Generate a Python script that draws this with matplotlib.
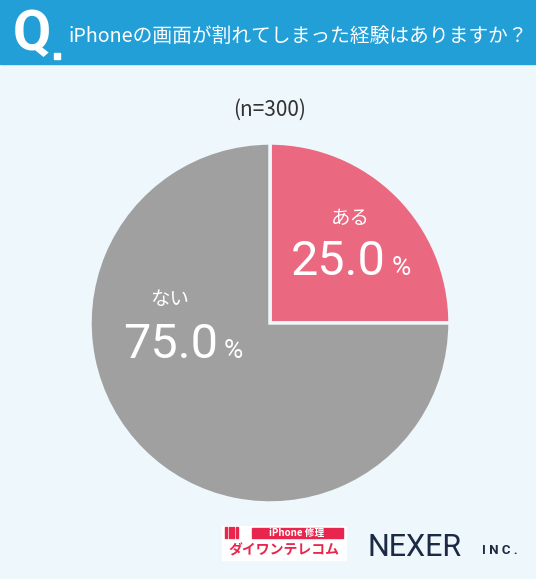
import matplotlib.pyplot as plt
from matplotlib.patches import Rectangle

plt.rcParams['font.family'] = ['Noto Sans CJK JP', 'DejaVu Sans']

# Data
labels = ['ある', 'ない']
values = [25.0, 75.0]
colors = ['#ea6981', '#a0a0a0']
question = 'iPhoneの画面が割れてしまった経験はありますか？'
sample = '(n=300)'

W, H = 536, 579
fig = plt.figure(figsize=(W / 100, H / 100), dpi=100)
fig.patch.set_facecolor('#eef7fc')
ax = fig.add_axes([0, 0, 1, 1])
ax.set_facecolor('#eef7fc')

# Header band
ax.add_patch(Rectangle((0, H - 64), W, 64, color='#229fd7', zorder=1))
ax.text(13, H - 35, 'Q', color='white', fontsize=40, fontweight='bold',
        va='center', ha='left', family=['Roboto', 'DejaVu Sans'])
ax.add_patch(Rectangle((54, H - 59), 6, 6, color='white', zorder=2))
ax.text(68, H - 36, question, color='white', fontsize=14.2, va='center', ha='left')

ax.text(W / 2 + 2, H - 110, sample, color='#333333', fontsize=15, ha='center', va='center')

# Pie
cx, cy, r = 270, H - 323, 180
wedges, _ = ax.pie(values, colors=colors, startangle=90, counterclock=False,
                   center=(cx, cy), radius=r, frame=True,
                   wedgeprops=dict(edgecolor='#eef7fc', linewidth=2.5))

num_font = ['Roboto', 'DejaVu Sans']
ax.text(350, H - 218, labels[0], color='white', fontsize=14, ha='center', va='center')
ax.text(338, H - 262, '25.0', color='white', fontsize=35, ha='center', va='center',
        family=num_font)
ax.text(401, H - 268, '%', color='white', fontsize=19, ha='center', va='center',
        family=num_font)
ax.text(170, H - 300, labels[1], color='white', fontsize=14, ha='center', va='center')
ax.text(171, H - 345, '75.0', color='white', fontsize=35, ha='center', va='center',
        family=num_font)
ax.text(233, H - 351, '%', color='white', fontsize=19, ha='center', va='center',
        family=num_font)

# Logos
ax.add_patch(Rectangle((222, H - 560), 124, 34, color='white', zorder=2))
ax.add_patch(Rectangle((252, H - 538), 91, 10, color='#e8264d', zorder=3))
for i in range(4):
    ax.add_patch(Rectangle((225 + i * 3.5, H - 538), 2, 11, color='#e8264d', zorder=3))
ax.text(297, H - 533, 'iPhone 修理', color='white', fontsize=7, fontweight='bold',
        ha='center', va='center', zorder=4)
ax.text(284, H - 550, 'ダイワンテレコム', color='#e8264d', fontsize=10, fontweight='bold',
        ha='center', va='center', zorder=4)
ax.text(367, H - 548, 'NEXER', color='#1c2b45', fontsize=22, ha='left', va='center',
        family=num_font)
ax.text(482, H - 551, 'I N C .', color='#1c2b45', fontsize=9.5, fontweight='bold', ha='left',
        va='center', family=num_font)

ax.set_xlim(0, W)
ax.set_ylim(0, H)
ax.set_aspect('auto')
ax.axis('off')

plt.savefig('out.png', dpi=100, facecolor=fig.get_facecolor())
